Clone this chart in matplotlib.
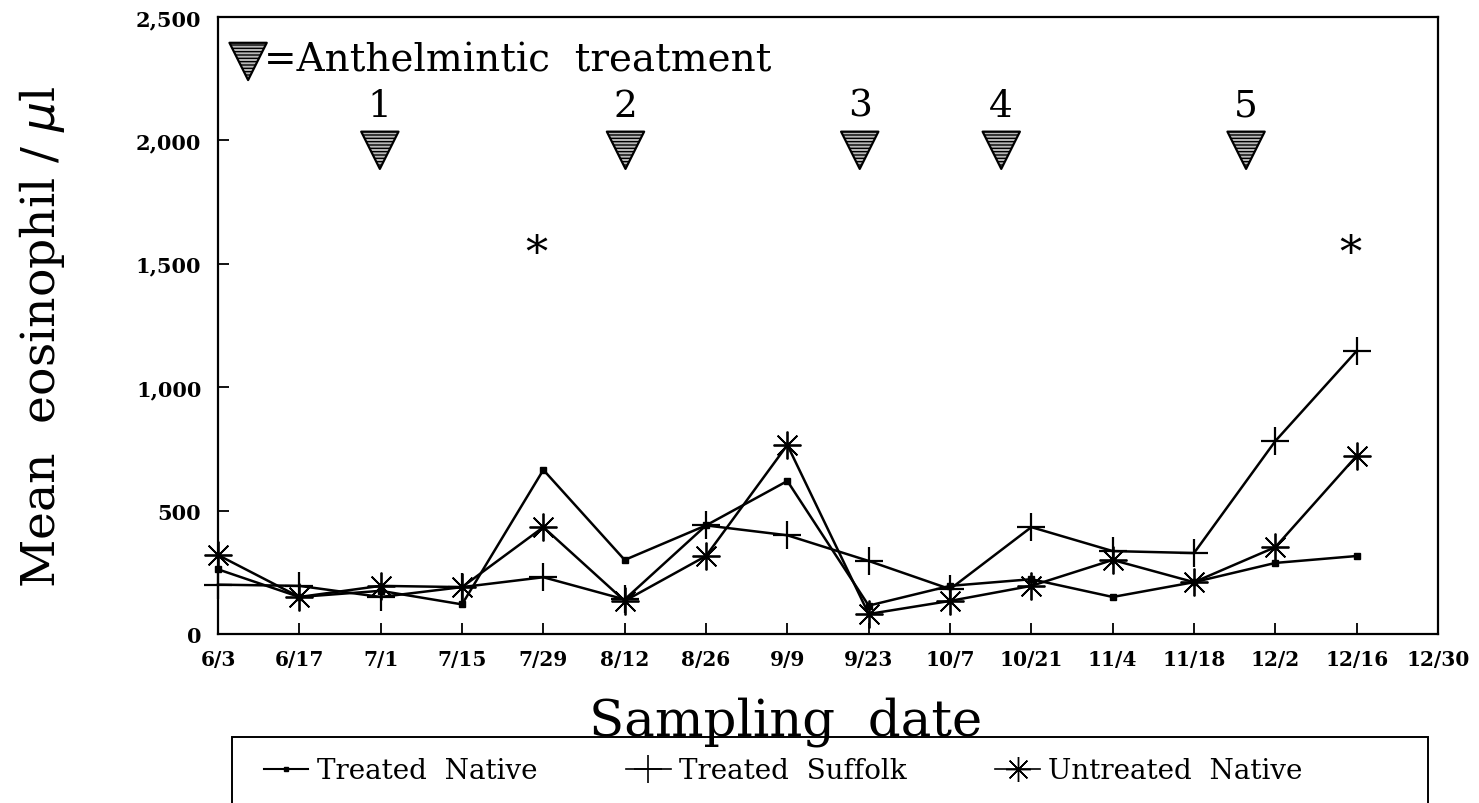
import matplotlib
matplotlib.use("Agg")
import matplotlib.pyplot as plt
from matplotlib.lines import Line2D
from matplotlib.patches import Rectangle

# ---------------- data ----------------
dates = ["6/3", "6/17", "7/1", "7/15", "7/29", "8/12", "8/26", "9/9",
         "9/23", "10/7", "10/21", "11/4", "11/18", "12/2", "12/16", "12/30"]
treated_native = [262, 150, 175, 120, 665, 300, 440, 620, 115, 195, 222, 150, 210, 288, 316]
treated_suffolk = [200, 195, 150, 190, 230, 140, 440, 400, 296, 182, 433, 336, 328, 782, 1147]
untreated_native = [320, 150, 195, 190, 433, 134, 316, 766, 81, 134, 195, 300, 210, 352, 722]
series_labels = ["Treated  Native", "Treated  Suffolk", "Untreated  Native"]

treatment_pos = [1.99, 5.01, 7.89, 9.63, 12.64]   # in sampling-interval units
treatment_labels = ["1", "2", "3", "4", "5"]
signif_pos = [4, 14]
yticks = [0, 500, 1000, 1500, 2000, 2500]
ytick_labels = ["0", "500", "1,000", "1,500", "2,000", "2,500"]

# ---------------- figure ----------------
plt.rcParams['font.family'] = ['DejaVu Serif']
fig = plt.figure(figsize=(14.79, 8.04), dpi=100)
ax = fig.add_axes([0.1474, 0.2102, 0.8249, 0.7674])

x = list(range(len(treated_native)))
lw = 1.8
ax.plot(x, treated_native, color='black', lw=lw, marker='s', ms=4.5, mfc='black', clip_on=False)
ax.plot(x, treated_suffolk, color='black', lw=lw, marker='+', ms=20, mew=1.6, clip_on=False)
ax.plot(x, untreated_native, color='black', lw=lw, marker=(8, 2, 0), ms=20, mew=1.3, clip_on=False)

ax.set_xlim(0, len(dates) - 1)
ax.set_ylim(0, 2500)
ax.set_xticks(range(len(dates)))
ax.set_xticklabels(dates, fontweight='bold', fontsize=14.5)
ax.set_yticks(yticks)
ax.set_yticklabels(ytick_labels, fontweight='bold', fontsize=15)
ax.tick_params(axis='both', direction='in', length=8, width=1.3, colors='black')
ax.tick_params(axis='x', pad=11)
ax.tick_params(axis='y', pad=12)
for s in ax.spines.values():
    s.set_linewidth(1.6)

ax.set_xlabel("Sampling  date", fontsize=37, va='center')
ax.xaxis.set_label_coords((786 - 218) / (1438 - 218), -(722 - 635) / (635 - 18))
ax.set_ylabel("Mean  eosinophil / $\\mu$l", fontsize=34, va='center')
ax.yaxis.set_label_coords(-(218 - 42) / (1438 - 218), (635 - 337) / (635 - 18))

# treatment triangles
ax.scatter(treatment_pos, [1960] * len(treatment_pos), marker='v', s=720,
           facecolor='#b8b8b8', edgecolor='black', linewidth=1.6, hatch='-----', zorder=5)
for p, t in zip(treatment_pos, treatment_labels):
    ax.text(p, 2140, t, fontsize=27, ha='center', va='center')

# key for triangles
ax.scatter([0.37], [2320], marker='v', s=720, facecolor='#b8b8b8', edgecolor='black',
           linewidth=1.6, hatch='-----', zorder=5)
ax.text(0.56, 2325, "=Anthelmintic  treatment", fontsize=28, ha='left', va='center')

# significance stars
for p in signif_pos:
    ax.text(p - 0.08, 1540, "*", fontsize=32, ha='center', va='center')

# legend box (extends past the bottom edge, as in the source)
fig.patches.append(Rectangle((232 / 1479, -0.05), (1428 - 232) / 1479, (804 - 738) / 804 + 0.05,
                             transform=fig.transFigure, fill=False, edgecolor='black', lw=1.4))
handles = [
    Line2D([], [], color='black', lw=1.5, marker='s', ms=3.5),
    Line2D([], [], color='black', lw=1.2, marker='+', ms=20, mew=1.2),
    Line2D([], [], color='black', lw=1.2, marker=(8, 2, 0), ms=18, mew=1.0),
]
leg = fig.legend(handles, series_labels, loc='center left',
                 bbox_to_anchor=(250 / 1479, 1 - 772 / 804),
                 bbox_transform=fig.transFigure, ncol=3,
                 fontsize=20, frameon=False, borderpad=0.0,
                 handlelength=1.6, handletextpad=0.3, columnspacing=3.2)

fig.savefig("out.png", dpi=100)
